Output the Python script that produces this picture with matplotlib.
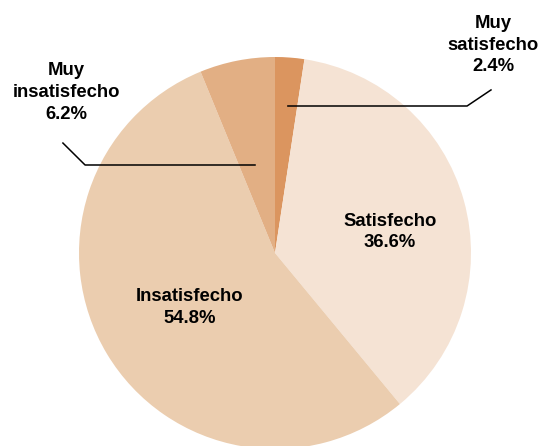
import matplotlib
matplotlib.use('Agg')
import matplotlib.pyplot as plt

## Data ##
categories = ['Muy satisfecho', 'Satisfecho', 'Insatisfecho', 'Muy insatisfecho']
values = [2.4, 36.6, 54.8, 6.2]
colors = ['#DB955F', '#F5E3D4', '#EBCDAF', '#E2AF84']

plt.rcParams['font.family'] = ['Liberation Sans', 'DejaVu Sans']

## Set Up Figure ##
fig = plt.figure(figsize=(5.41, 4.46), dpi=100)
ax = fig.add_axes([79 / 541, -3 / 446, 392 / 541, 392 / 446])

ax.pie(values, colors=colors, startangle=90, counterclock=False, radius=1,
       wedgeprops=dict(linewidth=0))
ax.set_xlim(-1, 1)
ax.set_ylim(-1, 1)
ax.set_aspect('equal')
ax.axis('off')

lab = [f'{c}\n{v:.1f}%' for c, v in zip(categories, values)]
lab[0] = 'Muy\nsatisfecho\n%.1f%%' % values[0]
lab[3] = 'Muy\ninsatisfecho\n%.1f%%' % values[3]

txt = dict(fontsize=13.3, fontweight='bold', ha='center', va='center',
           linespacing=1.38, color='black')

# inside labels
ax.text(0.587, 0.107, lab[1], **txt)
ax.text(-0.434, -0.28, lab[2], **txt)

# outside labels with leader lines
ax.text(1.112, 1.061, lab[0], clip_on=False, **txt)
ax.plot([0.066, 0.980, 1.102], [0.750, 0.750, 0.832], color='black', lw=1.1, clip_on=False)

ax.text(-1.066, 0.821, lab[3], clip_on=False, **txt)
ax.plot([-0.102, -0.969, -1.082], [0.449, 0.449, 0.561], color='black', lw=1.1, clip_on=False)

plt.savefig('out.png', dpi=100)
